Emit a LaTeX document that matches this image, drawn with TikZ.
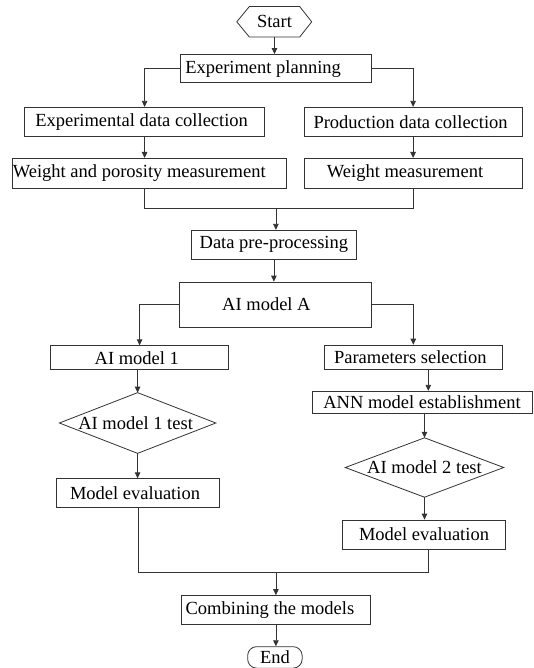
\documentclass[tikz,border=0pt]{standalone}
\usepackage{fontspec}
\setmainfont{Liberation Serif}
\usetikzlibrary{arrows.meta}
\tikzset{
  base/.style={inner sep=0pt, font=\fontsize{18.5}{20}\selectfont, text=black},
  box/.style={base, draw=black!80, line width=0.8pt, rectangle},
  ghost/.style={base, draw=none, rectangle},
  ln/.style={draw=black!80, line width=0.8pt},
  arr/.style={ln, -{Triangle[length=6pt,width=5.5pt]}},
  shp/.style={draw=black!80, line width=0.8pt, line join=miter},
}
\begin{document}
\begin{tikzpicture}[x=1pt,y=-1pt]
\useasboundingbox[fill=white] (0,0) rectangle (534,668);

% nodes
\node[ghost, minimum width=50, minimum height=30] (start) at (274.5,21.8) {Start};
\draw[shp] (start.north west) -- (start.north east) -- ([xshift=12pt]start.east) -- (start.south east) -- (start.south west) -- ([xshift=-12.5pt]start.west) -- cycle;

\node[box, minimum width=190.8, minimum height=28.3] (plan) at (275.9,68.6) {Experiment planning\hspace*{25.6pt}};
\node[box, minimum width=240.2, minimum height=29] (expdata) at (144.6,121.8) {Experimental data collection\hspace*{6pt}};
\node[box, minimum width=217.9, minimum height=29] (proddata) at (413.1,121.8) {Production data collection\hspace*{5pt}};
\node[box, minimum width=274.2, minimum height=30] (wpm) at (149,173.4) {Weight and porosity measurement\hspace*{19.5pt}};
\node[box, minimum width=217.9, minimum height=30] (wm) at (413.1,173.4) {Weight measurement\hspace*{16pt}};

\coordinate (j1) at (275.9,208.7);

\node[box, minimum width=164.1, minimum height=28.9] (dpp) at (273.9,244.7) {Data pre-processing};
\node[box, minimum width=191.8, minimum height=44.9] (aiA) at (275.4,304.5) {AI model A\hspace*{18pt}};

\node[box, minimum width=178.5, minimum height=24.1] (ai1) at (139.6,357.8) {AI model 1\hspace*{5.6pt}};
\node[box, minimum width=178.2, minimum height=23.8] (params) at (413.3,357) {Parameters selection\hspace*{6pt}};

\node[box, minimum width=220, minimum height=22.5] (ann) at (422,402.5) {ANN model establishment};

\node[ghost, minimum width=156, minimum height=60.3] (t1) at (137.6,423) {AI model 1 test\hspace*{4pt}};
\draw[shp] (t1.north) -- (t1.east) -- (t1.south) -- (t1.west) -- cycle;

\node[ghost, minimum width=158, minimum height=59] (t2) at (424.5,467.5) {AI model 2 test};
\draw[shp] (t2.north) -- (t2.east) -- (t2.south) -- (t2.west) -- cycle;

\node[box, minimum width=163.5, minimum height=28.9] (eval1) at (138,493.2) {Model evaluation\hspace*{6pt}};
\node[box, minimum width=163.4, minimum height=29] (eval2) at (424,534.5) {Model evaluation};

\coordinate (j2) at (275.9,572.4);

\node[box, minimum width=188.7, minimum height=29.3] (comb) at (275.9,610.2) {Combining the models\hspace*{12pt}};
\node[box, rounded corners=9pt, minimum width=54.5, minimum height=21.5] (end) at (274.9,657.4) {End};

% connectors
\draw[arr] (start.south) -- (start.south |- plan.north);
\draw[arr] (plan.west) -| (expdata.north);
\draw[arr] (plan.east) -| (proddata.north);
\draw[arr] (expdata.south) -- (expdata.south |- wpm.north);
\draw[arr] (proddata.south) -- (wm.north);
\draw[ln] (expdata.south |- wpm.south) |- (j1);
\draw[ln] (wm.south) |- (j1);
\draw[arr] (j1) -- (j1 |- dpp.north);
\draw[arr] (dpp.south) -- (dpp.south |- aiA.north);
\draw[arr] (aiA.west) -| (ai1.north);
\draw[arr] (aiA.east) -| (params.north);
\draw[arr] (t1.north |- ai1.south) -- (t1.north);
\draw[arr] ([xshift=15pt]params.south) -- ([xshift=15pt]params.south |- ann.north);
\draw[arr] (t2.north |- ann.south) -- (t2.north);
\draw[arr] (t1.south) -- (t1.south |- eval1.north);
\draw[arr] (t2.south) -- (t2.south |- eval2.north);
\draw[ln] (eval1.south) |- (j2);
\draw[ln] ([xshift=4pt]eval2.south) |- (j2);
\draw[arr] (j2) -- (j2 |- comb.north);
\draw[arr] (comb.south) -- (comb.south |- end.north);
\end{tikzpicture}
\end{document}
